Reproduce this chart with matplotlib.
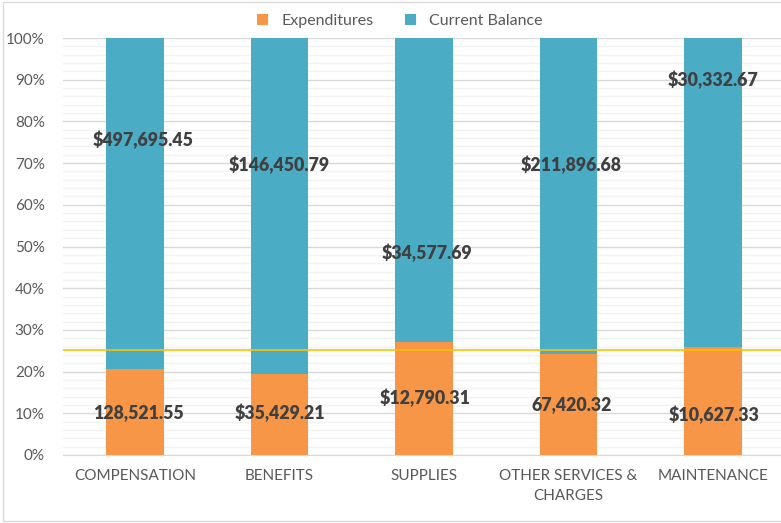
import matplotlib.pyplot as plt
import numpy as np
from matplotlib.patches import Rectangle
from matplotlib.ticker import MultipleLocator, PercentFormatter

categories = ['COMPENSATION', 'BENEFITS', 'SUPPLIES', 'OTHER SERVICES &\nCHARGES', 'MAINTENANCE']
expenditures = [128521.55, 35429.21, 12790.31, 67420.32, 10627.33]
balance = [497695.45, 146450.79, 34577.69, 211896.68, 30332.67]
exp_labels = ['128,521.55', '$35,429.21', '$12,790.31', '67,420.32', '$10,627.33']
bal_labels = ['$497,695.45', '$146,450.79', '$34,577.69', '$211,896.68', '$30,332.67']
target_pct = 25.2

# label placement (labels were dragged by hand in the original)
exp_label_y = [10.2, 10.0, 13.6, 12.0, 9.6]
bal_label_y = [75.5, 69.5, 48.5, 69.5, 90.0]
exp_label_dx = [0.02, 0.0, 0.01, 0.02, 0.01]
bal_label_dx = [0.055, 0.0, 0.02, 0.02, 0.0]

plt.rcParams['font.family'] = ['Lato', 'DejaVu Sans']

orange = '#F79646'
blue = '#4BACC6'
txt = '#595959'

exp = np.array(expenditures)
bal = np.array(balance)
tot = exp + bal
exp_pct = exp / tot * 100
bal_pct = bal / tot * 100

fig = plt.figure(figsize=(7.81, 5.23), dpi=100)
ax = fig.add_axes([62.75 / 781, (523 - 455) / 523, 722.5 / 781, 417 / 523])

x = np.arange(len(categories))
w = 0.40
ax.bar(x, exp_pct, w, color=orange, label='Expenditures', zorder=3)
ax.bar(x, bal_pct, w, bottom=exp_pct, color=blue, label='Current Balance', zorder=3)

for i in range(len(categories)):
    ax.text(x[i] + exp_label_dx[i], exp_label_y[i], exp_labels[i], ha='center', va='center',
            fontsize=12.8, fontweight='heavy', color='#404040', zorder=5)
    ax.text(x[i] + bal_label_dx[i], bal_label_y[i], bal_labels[i], ha='center', va='center',
            fontsize=12.8, fontweight='heavy', color='#404040', zorder=5)

ax.axhline(target_pct, color='#FFC000', linewidth=1.2, zorder=4)

ax.set_xlim(-0.5, len(categories) - 0.5)
ax.set_ylim(0, 100)
ax.yaxis.set_major_locator(MultipleLocator(10))
ax.yaxis.set_minor_locator(MultipleLocator(2))
ax.yaxis.set_major_formatter(PercentFormatter(decimals=0))
ax.grid(axis='y', which='major', color='#D9D9D9', linewidth=1, zorder=0)
ax.grid(axis='y', which='minor', color='#F2F2F2', linewidth=1, zorder=0)
ax.set_axisbelow(True)
for s in ['top', 'right', 'left']:
    ax.spines[s].set_visible(False)
ax.spines['bottom'].set_color('#D9D9D9')
ax.spines['bottom'].set_zorder(2)
ax.tick_params(axis='both', which='both', length=0, colors=txt, labelsize=11)
ax.tick_params(axis='x', pad=10)
ax.tick_params(axis='y', pad=13)
ax.set_xticks(x)
ax.set_xticklabels(categories, color=txt, linespacing=1.55)

leg = fig.legend(loc='center', bbox_to_anchor=(400 / 781, 1 - 21 / 523), ncol=2,
                 frameon=False, fontsize=11.5, handlelength=0.7, handleheight=0.7,
                 columnspacing=2.0, handletextpad=0.8, labelcolor=txt)

fig.patches.append(Rectangle((3 / 781, 2 / 523), 1, 519 / 523, transform=fig.transFigure,
                             fill=False, edgecolor='#D9D9D9', linewidth=1))

fig.savefig('out.png', dpi=100)
